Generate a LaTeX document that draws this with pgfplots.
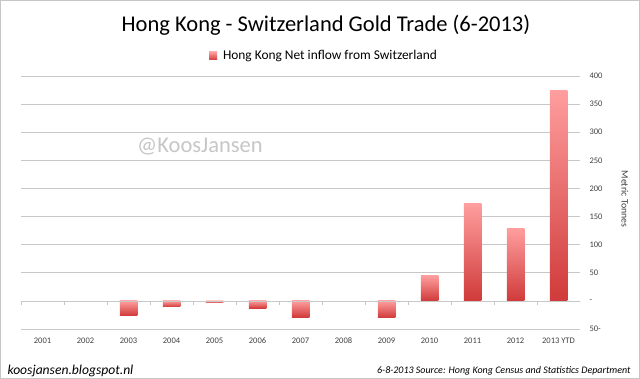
\documentclass[border=0pt]{standalone}
\usepackage{pgfplots}
\pgfplotsset{compat=1.18}
\usepackage{fontspec}
\setmainfont{Carlito}
\definecolor{bartop}{RGB}{255,158,158}
\definecolor{barbot}{RGB}{208,58,58}
\definecolor{gridc}{RGB}{200,200,200}
\definecolor{lbl}{RGB}{64,64,64}
\pgfplotsset{gbar/.style={draw=none, top color=bartop, bottom color=barbot, bar shift=0pt}}
\begin{document}
\begin{tikzpicture}[x=1pt,y=1pt]
\path[use as bounding box] (0,0) rectangle (640,379);
\draw[gray!45, line width=1pt] (0.5,0.5) rectangle (639.5,378.5);
\begin{axis}[
  at={(21pt,50pt)}, anchor=south west, scale only axis,
  width=559pt, height=253pt,
  xmin=-0.5, xmax=12.5, ymin=-50, ymax=400,
  axis line style={draw=none},
  ybar, bar width=17.5pt,
  xtick={0,...,12},
  xticklabels={2001,2002,2003,2004,2005,2006,2007,2008,2009,2010,2011,2012,2013 YTD},
  major tick length=0pt,
  ytick={-50,0,50,100,150,200,250,300,350,400},
  yticklabels={50-,-,50,100,150,200,250,300,350,400},
  yticklabel pos=right,
  yticklabel style={anchor=west, xshift=6pt},
  xticklabel style={yshift=-5pt},
  ymajorgrids, grid style={gridc, line width=0.7pt},
  tick label style={font=\fontsize{8.5}{10}\selectfont, text=lbl},
  legend style={at={(0.542,1)}, anchor=center, yshift=20pt, draw=none, fill=none,
    font=\fontsize{13.4}{15}\selectfont},
  legend image code/.code={\fill[#1] (0pt,-4pt) rectangle (8pt,4pt); \path (12pt,0pt);},
]
\addplot[gbar] coordinates {(12,375)};
\addlegendentry{Hong Kong Net inflow from Switzerland}
\addplot[gbar, forget plot] coordinates {(0,0.5)};
\addplot[gbar, forget plot] coordinates {(1,0.5)};
\addplot[gbar, forget plot] coordinates {(2,-26)};
\addplot[gbar, forget plot] coordinates {(3,-10.5)};
\addplot[gbar, forget plot] coordinates {(4,-3.5)};
\addplot[gbar, forget plot] coordinates {(5,-13)};
\addplot[gbar, forget plot] coordinates {(6,-29)};
\addplot[gbar, forget plot] coordinates {(7,1)};
\addplot[gbar, forget plot] coordinates {(8,-30)};
\addplot[gbar, forget plot] coordinates {(9,45)};
\addplot[gbar, forget plot] coordinates {(10,173)};
\addplot[gbar, forget plot] coordinates {(11,128.5)};
\draw[gridc, line width=0.7pt] (axis cs:-0.5,0) -- (axis cs:12.5,0);
\pgfplotsinvokeforeach{-0.5,0.5,...,12.5}{\draw[gridc, line width=0.7pt] (axis cs:#1,0) -- ++(0pt,-4pt);}
\end{axis}
\node at (326,354) {\fontsize{22.5}{27}\selectfont Hong Kong - Switzerland Gold Trade (6-2013)};
\node[text=gray!45] at (200,232) {\fontsize{22.5}{26}\selectfont @KoosJansen};
\node[rotate=-90, text=lbl] at (625,180) {\fontsize{9.8}{11}\selectfont Metric Tonnes};
\node[anchor=west] at (4,8.5) {\itshape\fontsize{13.6}{16}\selectfont koosjansen.blogspot.nl};
\node[anchor=east] at (634,8) {\itshape\fontsize{10}{12}\selectfont 6-8-2013 Source: Hong Kong Census and Statistics Department};
\end{tikzpicture}
\end{document}
